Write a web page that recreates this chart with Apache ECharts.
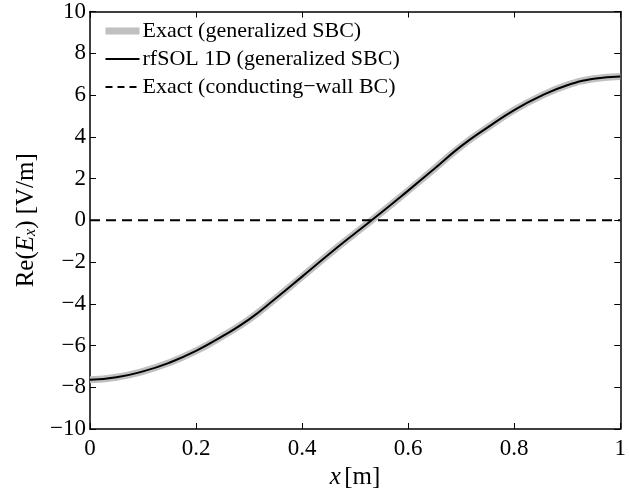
<!DOCTYPE html>
<html>
<head>
<meta charset="utf-8">
<script src="https://cdn.jsdelivr.net/npm/echarts@6/dist/echarts.min.js"></script>
<style>html,body{margin:0;padding:0;background:#fff}#c{width:629px;height:495px}</style>
</head>
<body>
<div id="c"></div>
<script>
// x positions [m]
var xValues = [0, 0.05, 0.1, 0.15, 0.2, 0.25, 0.3, 0.35, 0.4, 0.45, 0.5, 0.55, 0.6, 0.65, 0.7, 0.75, 0.8, 0.85, 0.9, 0.95, 1.0];
// Exact (generalized SBC)
var exactSBC = [-7.64, -7.52, -7.24, -6.82, -6.26, -5.55, -4.75, -3.75, -2.7, -1.64, -0.62, 0.38, 1.42, 2.48, 3.55, 4.45, 5.28, 5.95, 6.47, 6.78, 6.89];
// rfSOL 1D (generalized SBC)
var rfsol = [-7.64, -7.52, -7.24, -6.82, -6.26, -5.55, -4.75, -3.75, -2.7, -1.64, -0.62, 0.38, 1.42, 2.48, 3.55, 4.45, 5.28, 5.95, 6.47, 6.78, 6.89];
// Exact (conducting-wall BC)
var wallX = [0, 1];
var wallY = [0, 0];

var seriesNames = ['Exact (generalized SBC)', 'rfSOL 1D (generalized SBC)', 'Exact (conducting\u2212wall BC)'];

function pairs(xs, ys) { return xs.map(function (x, i) { return [x, ys[i]]; }); }

var FONT = 'Liberation Serif';
function minus(v) { return String(v).replace('-', '\u2212'); }

var chart = echarts.init(document.getElementById('c'));
var axisCommon = {
  axisLine: { show: true, onZero: false, lineStyle: { color: '#000', width: 1.5 } },
  axisTick: { show: true, inside: true, length: 6, lineStyle: { color: '#000', width: 1 } },
  splitLine: { show: false }
};
chart.setOption({
  animation: false,
  backgroundColor: '#fff',
  grid: { left: 90, right: 2, top: 8, bottom: 66, containLabel: false },
  legend: {
    data: [
      { name: seriesNames[0], lineStyle: { width: 7, color: '#c0c0c0' } },
      { name: seriesNames[1], lineStyle: { width: 2, color: '#000' } },
      { name: seriesNames[2], lineStyle: { width: 2, color: '#000', type: [7, 5] } }
    ],
    orient: 'vertical',
    left: 97,
    top: 13,
    itemWidth: 34,
    itemHeight: 14,
    itemGap: 2,
    itemStyle: { opacity: 0, borderWidth: 0 },
    textStyle: { fontFamily: FONT, fontSize: 22, lineHeight: 26, color: '#000', padding: [0, 0, 0, -2] }
  },
  xAxis: [
    Object.assign({
      type: 'value', min: 0, max: 1, interval: 0.2, position: 'bottom',
      name: '{i|x} {a|[m]}', nameLocation: 'middle', nameGap: 28,
      nameTextStyle: { rich: { i: { fontFamily: FONT, fontSize: 25, fontStyle: 'italic', color: '#000' }, a: { fontFamily: FONT, fontSize: 25, color: '#000' } } },
      axisLabel: { fontFamily: FONT, fontSize: 23, color: '#000', margin: 8, formatter: function (v) { return minus(v); } }
    }, axisCommon),
    Object.assign({
      type: 'value', min: 0, max: 1, interval: 0.2, position: 'top',
      axisLabel: { show: false }
    }, axisCommon)
  ],
  yAxis: [
    Object.assign({
      type: 'value', min: -10, max: 10, interval: 2, position: 'left',
      name: '{a|Re(}{i|E}{s|x}{a|) [V/m]}', nameLocation: 'middle', nameGap: 48,
      nameTextStyle: { rich: {
        a: { fontFamily: FONT, fontSize: 25, color: '#000' },
        i: { fontFamily: FONT, fontSize: 25, fontStyle: 'italic', color: '#000' },
        s: { fontFamily: FONT, fontSize: 16, fontStyle: 'italic', color: '#000', verticalAlign: 'bottom', padding: [7, 0, 0, 0] }
      } },
      axisLabel: { fontFamily: FONT, fontSize: 23, color: '#000', margin: 4, formatter: function (v) { return minus(v); } }
    }, axisCommon),
    Object.assign({
      type: 'value', min: -10, max: 10, interval: 2, position: 'right',
      axisLabel: { show: false }
    }, axisCommon)
  ],
  series: [
    { name: seriesNames[0], type: 'line', data: pairs(xValues, exactSBC), smooth: true, symbol: 'none', color: '#c0c0c0', lineStyle: { color: '#c0c0c0', width: 7 }, z: 2 },
    { name: seriesNames[1], type: 'line', data: pairs(xValues, rfsol), smooth: true, symbol: 'none', color: '#000', lineStyle: { color: '#000', width: 2 }, z: 3 },
    { name: seriesNames[2], type: 'line', data: pairs(wallX, wallY), symbol: 'none', color: '#000', lineStyle: { color: '#000', width: 2, type: [10, 6] }, z: 3 }
  ]
});
</script>
</body>
</html>
